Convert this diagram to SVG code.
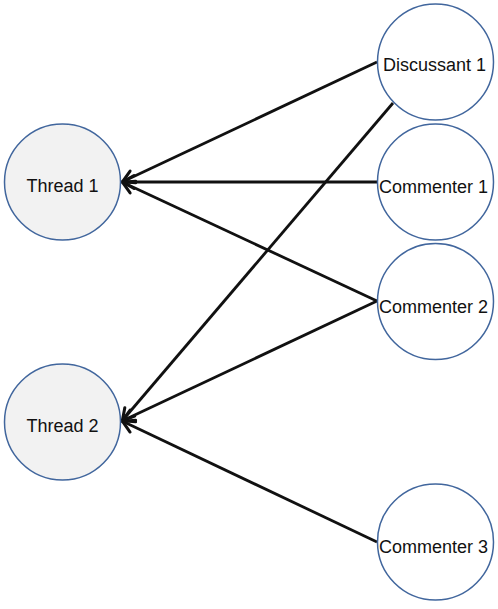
<svg xmlns="http://www.w3.org/2000/svg" width="498" height="609" viewBox="0 0 498 609">
<style>
.node{stroke:#41669d;stroke-width:1.5}
.thread{fill:#f2f2f2}
.person{fill:#ffffff}
.lbl{font-family:"Liberation Sans",Arial,sans-serif;font-size:18px;fill:#111;text-anchor:middle}
.edge{stroke:#111;stroke-width:2.8;fill:none;marker-end:url(#arr)}
</style>
<defs>
<marker id="arr" markerUnits="userSpaceOnUse" viewBox="-16 -10 20 20" refX="0" refY="0" markerWidth="20" markerHeight="20" orient="auto">
<path d="M-12,-6.5 L-0.5,0 L-12,6.5" fill="none" stroke="#111" stroke-width="3" stroke-linejoin="miter" stroke-linecap="round"/>
</marker>
</defs>
<rect width="498" height="609" fill="#ffffff"/>
<g id="connectors">
<line class="edge" x1="377" y1="62" x2="122" y2="182"/>
<line class="edge" x1="393" y1="103" x2="122" y2="421"/>
<line class="edge" x1="377" y1="182" x2="122" y2="182"/>
<line class="edge" x1="377" y1="301" x2="122" y2="182"/>
<line class="edge" x1="377" y1="301" x2="122" y2="421"/>
<line class="edge" x1="377" y1="542" x2="122" y2="421"/>
</g>
<g id="thread1">
<circle class="node thread" cx="62.5" cy="182" r="58"/>
<text class="lbl" x="62.5" y="191.5">Thread 1</text>
</g>
<g id="thread2">
<circle class="node thread" cx="62.5" cy="422" r="58"/>
<text class="lbl" x="62.5" y="431.5">Thread 2</text>
</g>
<g id="discussant1">
<circle class="node person" cx="435.5" cy="62" r="58"/>
<text class="lbl" x="434.5" y="70.5">Discussant 1</text>
</g>
<g id="commenter1">
<circle class="node person" cx="435.5" cy="182" r="58"/>
<text class="lbl" x="433.5" y="192.5">Commenter 1</text>
</g>
<g id="commenter2">
<circle class="node person" cx="435.5" cy="301.5" r="58"/>
<text class="lbl" x="433.5" y="312.5">Commenter 2</text>
</g>
<g id="commenter3">
<circle class="node person" cx="435.5" cy="542" r="58"/>
<text class="lbl" x="433.5" y="552.5">Commenter 3</text>
</g>
</svg>
